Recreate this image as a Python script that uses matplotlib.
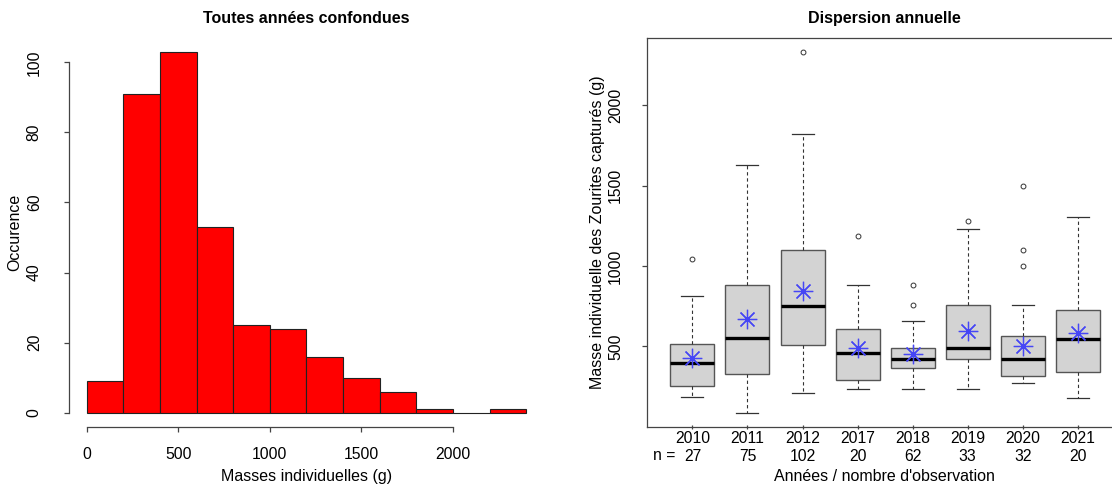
import numpy as np
import matplotlib.pyplot as plt

plt.rcParams['font.family'] = ['Liberation Sans', 'DejaVu Sans']

# Histogramme : classes de 200 g
bin_edges = [0, 200, 400, 600, 800, 1000, 1200, 1400, 1600, 1800, 2000, 2200, 2400]
counts = [9, 91, 103, 53, 25, 24, 16, 10, 6, 1, 0, 1]

# Dispersion annuelle
years = ['2010', '2011', '2012', '2017', '2018', '2019', '2020', '2021']
n_obs = [27, 75, 102, 20, 62, 33, 32, 20]
whis_lo = [184, 88, 209, 236, 236, 236, 271, 181]
q1 = [256, 329, 509, 293, 364, 422, 316, 340]
med = [397, 553, 752, 457, 424, 491, 424, 545]
q3 = [517, 881, 1100, 609, 489, 758, 567, 725]
whis_hi = [810, 1629, 1822, 881, 659, 1231, 758, 1302]
means = [428, 671, 843, 491, 451, 598, 505, 580]
outliers = [[1046], [], [2331], [1186], [881, 760], [1281], [1500, 1100, 1001], []]

axis_col = '#444444'

fig = plt.figure(figsize=(11.12, 4.86), dpi=100)

# ---- Histogramme, toutes années confondues ----
ax1 = fig.add_axes([0.0620, 0.1214, 0.4272, 0.8014])
widths = np.diff(bin_edges)
ax1.bar(bin_edges[:-1], counts, width=widths, align='edge',
        color='#FF0000', edgecolor='#222222', linewidth=0.8)
ax1.set_xlim(-96, 2496)
ax1.set_ylim(-4.12, 107.12)
for s in ['top', 'right']:
    ax1.spines[s].set_visible(False)
ax1.spines['left'].set_bounds(0, 100)
ax1.spines['bottom'].set_bounds(0, 2000)
for s in ['left', 'bottom']:
    ax1.spines[s].set_color(axis_col)
    ax1.spines[s].set_linewidth(0.9)
ax1.set_xticks([0, 500, 1000, 1500, 2000])
ax1.set_yticks([0, 20, 40, 60, 80, 100])
ax1.tick_params(axis='x', length=3.5, width=0.9, color=axis_col, pad=11, labelsize=11.3)
ax1.tick_params(axis='y', length=3.5, width=0.9, color=axis_col, pad=16, labelsize=11.3)
for lab in ax1.get_yticklabels():
    lab.set_rotation(90)
    lab.set_va('center')
ax1.text(0.5, -0.128, 'Masses individuelles (g)', transform=ax1.transAxes,
         ha='center', va='center', fontsize=11.5)
ax1.text(-0.1135, 0.5, 'Occurence', transform=ax1.transAxes, rotation=90,
         ha='center', va='center', fontsize=11.5)
ax1.text(0.5, 1.05, 'Toutes années confondues', transform=ax1.transAxes,
         ha='center', va='center', fontsize=11.5, fontweight='bold')

# ---- Boîtes à moustaches par année ----
ax2 = fig.add_axes([0.5821, 0.1214, 0.4277, 0.8014])
stats = []
for i in range(len(years)):
    stats.append(dict(whislo=whis_lo[i], q1=q1[i], med=med[i], q3=q3[i],
                      whishi=whis_hi[i], mean=means[i], fliers=outliers[i]))
pos = np.arange(1, len(years) + 1)
ax2.bxp(stats, positions=pos, widths=0.8, patch_artist=True, showmeans=True,
        boxprops=dict(facecolor='#D3D3D3', edgecolor='#555555', linewidth=1.0),
        medianprops=dict(color='black', linewidth=2.4),
        whiskerprops=dict(color='#333333', linestyle=(0, (3, 2.5)), linewidth=0.8),
        capprops=dict(color='#333333', linewidth=0.9),
        capwidths=0.4,
        flierprops=dict(marker='o', markersize=3.5, markerfacecolor='none',
                        markeredgecolor='#333333', markeredgewidth=0.7),
        meanprops=dict(marker=(8, 2, 0), markersize=14, markeredgecolor='#4646F5',
                       markerfacecolor='#4646F5', markeredgewidth=0.9))
ax2.set_xlim(0.18, 8.82)
ax2.set_ylim(-1.7, 2420.7)
for s in ax2.spines.values():
    s.set_color(axis_col)
    s.set_linewidth(0.9)
ax2.set_xticks(pos)
ax2.set_xticklabels([f'{y}\n{n}' for y, n in zip(years, n_obs)], linespacing=1.2)
ax2.set_yticks([500, 1000, 1500, 2000])
ax2.tick_params(axis='x', direction='inout', length=3, width=0.9, color=axis_col,
                pad=1.5, labelsize=11.3)
ax2.tick_params(axis='y', length=3.5, width=0.9, color=axis_col, pad=14, labelsize=11.3)
for lab in ax2.get_yticklabels():
    lab.set_rotation(90)
    lab.set_va('center')
ax2.annotate('n =', xy=(0.48, 0), xycoords=('data', 'axes fraction'),
             xytext=(0, -28.7), textcoords='offset pixels',
             ha='center', va='center', fontsize=11.3)
ax2.text(0.498, -0.128, "Années / nombre d'observation", transform=ax2.transAxes,
         ha='center', va='center', fontsize=11.5)
ax2.text(-0.1037, 0.5, 'Masse individuelle des Zourites capturés (g)',
         transform=ax2.transAxes, rotation=90, ha='center', va='center', fontsize=11.5)
ax2.text(0.498, 1.05, 'Dispersion annuelle', transform=ax2.transAxes,
         ha='center', va='center', fontsize=11.5, fontweight='bold')

fig.savefig('out.png', dpi=100)
